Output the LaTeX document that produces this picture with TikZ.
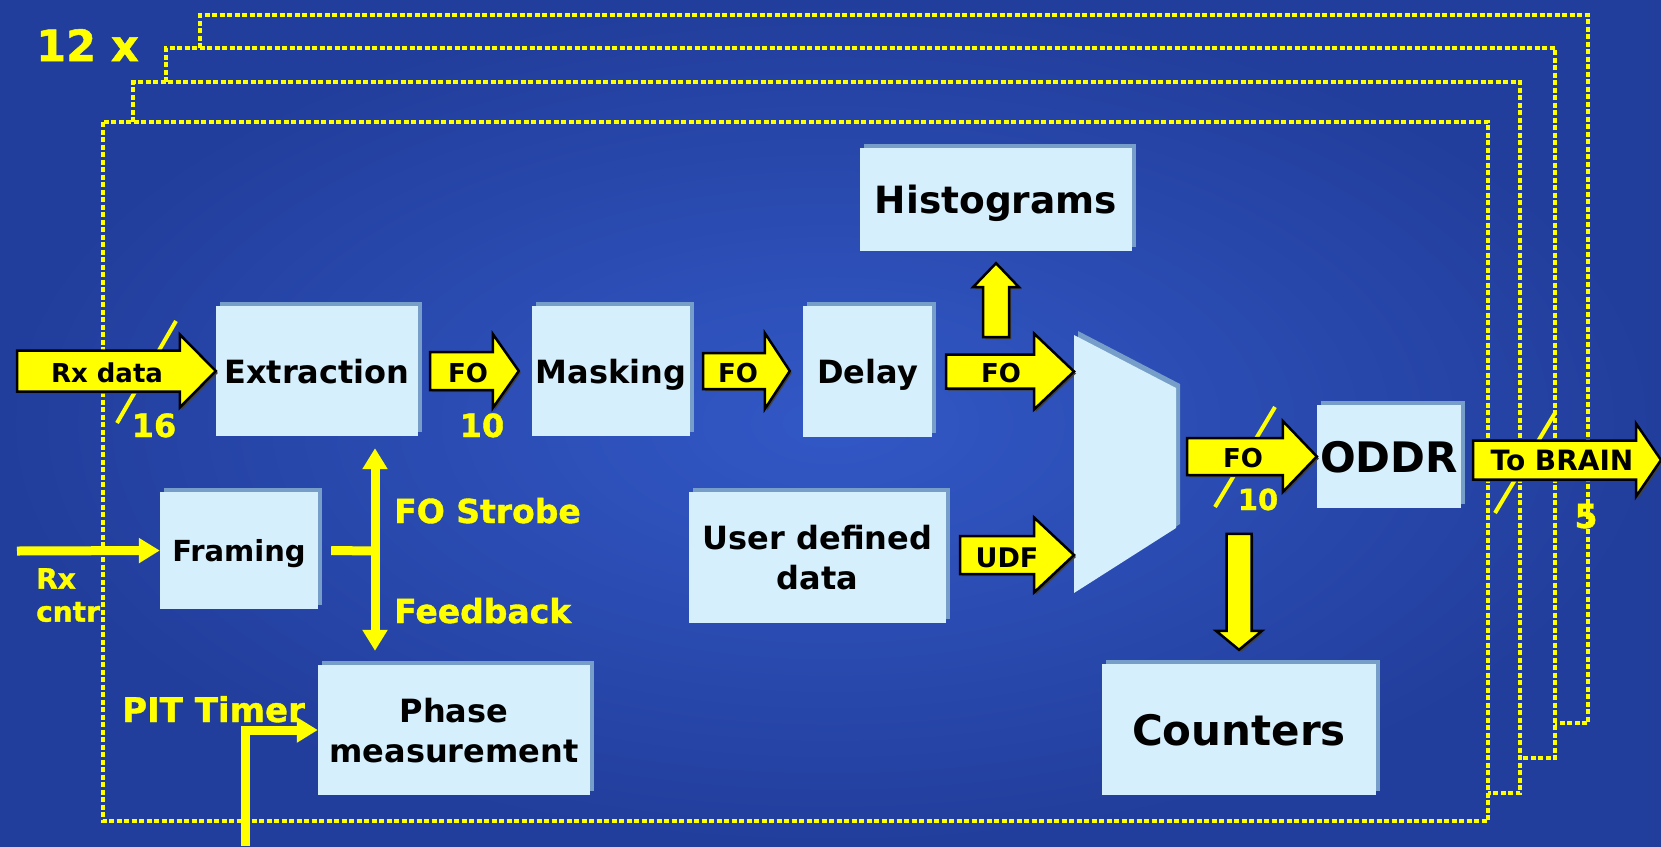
\documentclass[tikz,border=0pt]{standalone}
\usepackage{fontspec}
\setmainfont{DejaVu Sans}
\newfontfamily\sigfont{DejaVu Sans Bold}[FakeBold=1.2]
\usetikzlibrary{calc,arrows.meta,shadows}

\definecolor{bginner}{RGB}{50,88,198}
\definecolor{bgouter}{RGB}{34,62,156}
\definecolor{boxfill}{RGB}{213,239,252}
\definecolor{boxshade}{RGB}{118,158,200}
\definecolor{sigyellow}{RGB}{255,255,0}

\tikzset{
  barw/.store in=\barw, headw/.store in=\headw, headl/.store in=\headl,
  barw=19, headw=37, headl=30,
  unit/.style={fill=boxfill, inner sep=0pt, text depth=0pt, align=center,
    font=\bfseries\fontsize{32}{40}\selectfont,
    general shadow={shadow xshift=4pt, shadow yshift=4pt, fill=boxshade}},
  fat/.style={fill=sigyellow, draw=black, line width=2.5pt,
    general shadow={shadow xshift=2pt, shadow yshift=-2pt, fill=black!75}},
  fatright/.style={fat, to path={let \p1=(\tikztostart), \p2=(\tikztotarget) in
    (\x1,\y1+\barw) -- (\x2-\headl,\y1+\barw) -- (\x2-\headl,\y1+\headw) -- (\x2,\y1)
    -- (\x2-\headl,\y1-\headw) -- (\x2-\headl,\y1-\barw) -- (\x1,\y1-\barw) -- cycle}},
  fatup/.style={fat, to path={let \p1=(\tikztostart), \p2=(\tikztotarget) in
    (\x1-\barw,\y1) -- (\x1-\barw,\y2-\headl) -- (\x1-\headw,\y2-\headl) -- (\x1,\y2)
    -- (\x1+\headw,\y2-\headl) -- (\x1+\barw,\y2-\headl) -- (\x1+\barw,\y1) -- cycle}},
  fatdown/.style={fat, to path={let \p1=(\tikztostart), \p2=(\tikztotarget) in
    (\x1-\barw,\y1) -- (\x1-\barw,\y2+\headl) -- (\x1-\headw,\y2+\headl) -- (\x1,\y2)
    -- (\x1+\headw,\y2+\headl) -- (\x1+\barw,\y2+\headl) -- (\x1+\barw,\y1) -- cycle}},
  arrlbl/.style={anchor=base, inner sep=0pt, font=\bfseries\fontsize{26}{26}\selectfont},
  sig/.style={anchor=base west, inner sep=0pt, text=sigyellow,
    font=\sigfont\fontsize{33}{33}\selectfont},
  signal/.style={draw=sigyellow, line width=9pt, -{Triangle[length=21pt,width=24pt]}},
  slash/.style={draw=sigyellow, line width=4pt},
  frameline/.style={draw=sigyellow, line width=4.5pt, dash pattern=on 5pt off 2.5pt}
}

\begin{document}
\begin{tikzpicture}[x=1pt,y=-1pt]
\useasboundingbox (0,0) rectangle (1661,846);
\shade[inner color=bginner, outer color=bgouter] (0,0) rectangle (1661,846);

% the 12 stacked channels
\foreach \l/\t/\r/\b/\lb/\rf in {133/82/1520/793/122/1488, 166/48/1555/758/82/1520, 200/15/1588/723/48/1555}
  \draw[frameline] (\l,\lb) |- (\r,\t) |- (\rf,\b);
\draw[frameline] (103,122) rectangle (1488,821);
\node (count) at (36,61) [sig, font=\sigfont\fontsize{43}{43}\selectfont] {12 x};

\node (extraction) at (317,371) [unit, minimum width=202, minimum height=130] {Extraction};
\node (masking) at (611,371) [unit, minimum width=158, minimum height=130] {Masking};
\node (delay) at (867.5,371.5) [unit, minimum width=129, minimum height=131] {Delay};
\node (histograms) at (996,199.5) [unit, minimum width=272, minimum height=103,
  font=\bfseries\fontsize{37.5}{40}\selectfont] {Histograms};
\node (framing) at (239,550.5) [unit, minimum width=158, minimum height=117,
  font=\bfseries\fontsize{29}{32}\selectfont] {Framing};
\node (phase) at (454,730) [unit, minimum width=272, minimum height=130] {Phase\\measurement};
\node (userdata) at (817.5,557.5) [unit, minimum width=257, minimum height=131] {User defined\\data};
\node (oddr) at (1389,456.5) [unit, minimum width=144, minimum height=103,
  font=\bfseries\fontsize{42}{44}\selectfont] {ODDR};
\node (counters) at (1239,729.5) [unit, minimum width=274, minimum height=131,
  font=\bfseries\fontsize{42}{44}\selectfont] {Counters};

\coordinate (mux) at (1125,464);
\fill[boxfill, general shadow={shadow xshift=4pt, shadow yshift=4pt, fill=boxshade}]
  ($(mux)+(-51,-129)$) -- ($(mux)+(51,-76)$) -- ($(mux)+(51,64)$) -- ($(mux)+(-51,129)$) -- cycle;
\coordinate (muxin) at ($(mux)+(-51,0)$);

\coordinate (rxd) at (17,371);
\coordinate (rxc) at (17,551);
\coordinate (fj) at (375,551);
\coordinate (pit) at (245,846);
\coordinate (brain) at (1661,460);

\draw[slash] (176,321) -- (117,423);
\draw[slash] (1275,407) -- (1215,507);
\draw[slash] (1555,413) -- (1495,513);

\draw[fatright, barw=20.5, headw=36.5, headl=36] (rxd) to (extraction.west);
\draw[fatright, barw=19, headw=37, headl=26] ($(extraction.east)+(12,0)$) to ($(masking.west)+(-13,0)$);
\draw[fatright, barw=18, headw=38, headl=25] ($(masking.east)+(13,0)$) to ($(delay.west)+(-13,0)$);
\draw[fatright, barw=17, headw=38, headl=40] ($(delay.east)+(14,0)$) to (muxin);
\draw[fatright, barw=19, headw=37.5, headl=40] ($(userdata.east)+(14,-2.5)$) to (muxin);
\draw[fatright, barw=18.5, headw=35.5, headl=34] ($(mux)+(62,-7.5)$) to (oddr.west);
\draw[fatright, barw=19.5, headw=36.5, headl=25] ($(oddr.east)+(12,3.5)$) to (brain);
\draw[fatup, barw=13, headw=23, headl=24] ($(histograms.south)+(0,86)$) to ($(histograms.south)+(0,12)$);
\draw[fatdown, barw=12.5, headw=23, headl=19] ($(counters.north)+(0,-130)$) to ($(counters.north)+(0,-14)$);

\node (lrx) at (107,382) [arrlbl] {Rx data};
\node (lfo1) at (468,382) [arrlbl] {FO};
\node (lfo2) at (738,382) [arrlbl] {FO};
\node (lfo3) at (1001,382) [arrlbl] {FO};
\node (ludf) at (1007,567) [arrlbl, font=\bfseries\fontsize{27}{27}\selectfont] {UDF};
\node (lfo4) at (1243,467) [arrlbl] {FO};
\node (lbrain) at (1562,470) [arrlbl, font=\bfseries\fontsize{28}{28}\selectfont] {To BRAIN};

\node (w16) at (154,437) [sig, anchor=base, font=\sigfont\fontsize{32}{32}\selectfont] {16};
\node (w10a) at (482,437) [sig, anchor=base, font=\sigfont\fontsize{32}{32}\selectfont] {10};
\node (w10b) at (1258,510) [sig, anchor=base, font=\sigfont\fontsize{29}{29}\selectfont] {10};
\node (w5) at (1586,528) [sig, anchor=base, font=\sigfont\fontsize{33}{33}\selectfont] {5};

\draw[signal] (rxc) -- (framing.west);
\draw[signal, -] ($(framing.east)+(13,0)$) -- (fj);
\draw[signal, shorten >=12pt] (fj) -- (fj |- extraction.south);
\draw[signal, shorten >=14pt] (fj) -- (fj |- phase.north);
\draw[signal] (pit) |- (phase.west);

\node (rxcntr) at (36,568) [sig, anchor=north west, align=left,
  font=\sigfont\fontsize{28}{33}\selectfont] {Rx\\cntr};
\node (strobe) at (394,523) [sig] {FO Strobe};
\node (feedback) at (394,623) [sig] {Feedback};
\node (pittimer) at (122,722) [sig, font=\sigfont\fontsize{34}{34}\selectfont] {PIT Timer};
\end{tikzpicture}
\end{document}
